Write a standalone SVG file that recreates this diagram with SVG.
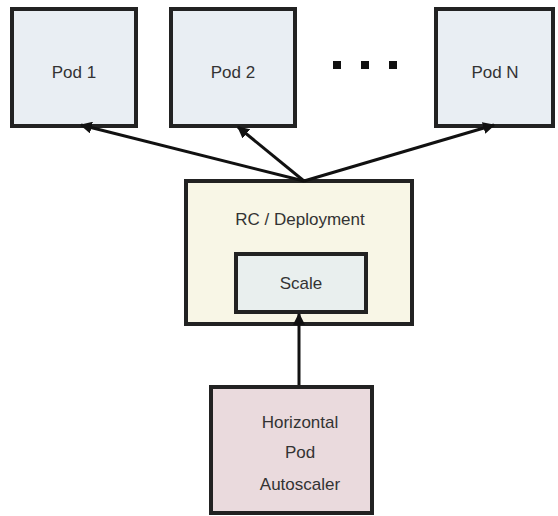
<svg xmlns="http://www.w3.org/2000/svg" width="558" height="516" viewBox="0 0 558 516">
<defs>
<style>
.box{stroke:#222;stroke-width:4}
.pod{fill:#e9eef3}
.rc{fill:#f8f6e6}
.scale{fill:#e9efee}
.hpa{fill:#eadadd}
.t{font-family:"Liberation Sans","DejaVu Sans",sans-serif;font-size:17px;fill:#333;text-anchor:middle}
.edge{stroke:#111;stroke-width:3;fill:none;marker-end:url(#ah)}
</style>
<marker id="ah" viewBox="0 0 10 10" refX="9" refY="5" markerWidth="4" markerHeight="4" orient="auto" markerUnits="strokeWidth">
<path d="M0,0 L10,5 L0,10 z" fill="#111"/>
</marker>
</defs>
<rect width="558" height="516" fill="#fff"/>
<g id="pod1"><rect class="box pod" x="12" y="9" width="124" height="117"/><text class="t" x="74" y="78">Pod 1</text></g>
<g id="pod2"><rect class="box pod" x="171" y="9" width="124" height="117"/><text class="t" x="233" y="78">Pod 2</text></g>
<g id="dots"><rect x="333" y="61" width="8" height="8" fill="#111"/><rect x="361" y="61" width="8" height="8" fill="#111"/><rect x="389" y="61" width="8" height="8" fill="#111"/></g>
<g id="podN"><rect class="box pod" x="436" y="9" width="117" height="117"/><text class="t" x="495" y="78">Pod N</text></g>
<g id="rc"><rect class="box rc" x="186" y="181" width="226" height="143"/><text class="t" x="300" y="225">RC / Deployment</text></g>
<g id="scale"><rect class="box scale" x="236" y="254" width="130" height="58"/><text class="t" x="301" y="289">Scale</text></g>
<g id="hpa"><rect class="box hpa" x="211" y="387" width="161" height="126"/><text class="t" x="300" y="428">Horizontal</text><text class="t" x="300" y="458">Pod</text><text class="t" x="300" y="490">Autoscaler</text></g>
<g id="connectors">
<line class="edge" x1="304" y1="181" x2="81" y2="125"/>
<line class="edge" x1="304" y1="181" x2="238" y2="127"/>
<line class="edge" x1="304" y1="181" x2="494" y2="125"/>
<line class="edge" x1="299" y1="385" x2="299" y2="314"/>
</g>
</svg>
